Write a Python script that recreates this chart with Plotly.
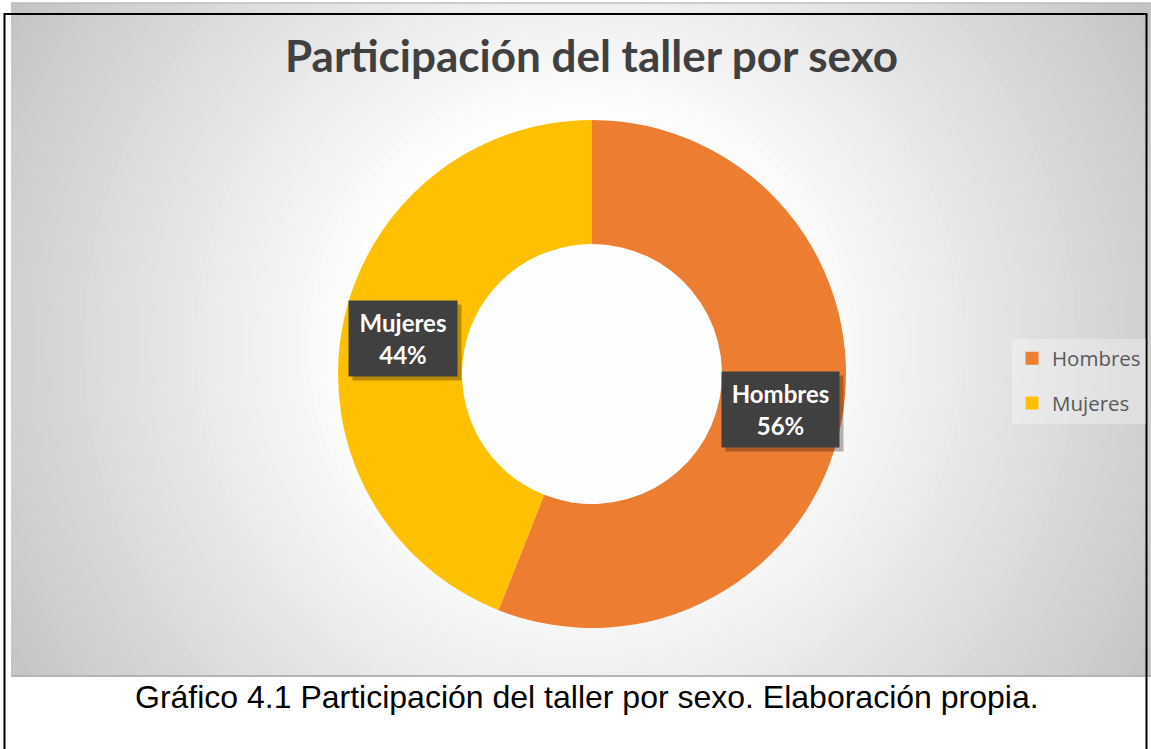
import math
import plotly.graph_objects as go

# ---- data ----
categories = ["Hombres", "Mujeres"]
values = [56, 44]
colors = ["#ED7D31", "#FFC000"]
label_box_widths = [103, 94]
title_text = "Participación del taller por sexo"
caption_text = "Gráfico 4.1 Participación del taller por sexo. Elaboración propia."

W, H = 1151, 749
CX, CY = 592, 374          # donut centre (px)
R_OUT, R_IN = 254, 130     # radii (px)

fig = go.Figure()

# hidden cartesian axes used for the radial-gradient background (1 unit = 1 px)
GX0, GX1, GY0, GY1 = 11, 1151, 3, 676
fig.update_layout(
    xaxis=dict(domain=[GX0 / W, GX1 / W], range=[GX0, GX1], visible=False, fixedrange=True),
    yaxis=dict(domain=[1 - GY1 / H, 1 - GY0 / H], range=[GY1, GY0], visible=False, fixedrange=True),
)

shapes = []
gcx, gcy = 580, 345
r = 760
while r >= 230:
    v = 285 - 0.134 * r
    v = max(185, min(255, v))
    c = int(round(v))
    shapes.append(dict(type="circle", xref="x", yref="y", layer="below",
                       x0=gcx - r, x1=gcx + r, y0=gcy - r, y1=gcy + r,
                       fillcolor=f"rgb({c},{c},{c})", line=dict(width=0)))
    r -= 8
# edges of the chart area
shapes.append(dict(type="line", xref="paper", yref="paper",
                   x0=GX0 / W, x1=GX1 / W, y0=1 - GY1 / H, y1=1 - GY1 / H,
                   line=dict(color="#b4b4b4", width=2)))
shapes.append(dict(type="line", xref="paper", yref="paper",
                   x0=GX0 / W, x1=GX1 / W, y0=1 - GY0 / H, y1=1 - GY0 / H,
                   line=dict(color="#bdbdbd", width=1.5)))
# black frame
shapes.append(dict(type="rect", xref="paper", yref="paper",
                   x0=4.5 / W, x1=1146.5 / W, y0=-0.05, y1=1 - 14 / H,
                   line=dict(color="black", width=2), fillcolor="rgba(0,0,0,0)"))

fig.add_trace(go.Pie(
    labels=categories, values=values, hole=R_IN / R_OUT,
    sort=False, direction="clockwise", rotation=0,
    marker=dict(colors=colors, line=dict(width=0)),
    textinfo="none", hoverinfo="label+percent", showlegend=False,
    domain=dict(x=[(CX - R_OUT) / W, (CX + R_OUT) / W],
                y=[1 - (CY + R_OUT) / H, 1 - (CY - R_OUT) / H]),
))

# legend entries
for cat, col in zip(categories, colors):
    fig.add_trace(go.Scatter(x=[None], y=[None], mode="markers", name=cat,
                             legendgroup=cat, hoverinfo="skip",
                             marker=dict(symbol="square", size=13, color=col)))

# data labels at slice centres
annotations = []
total = sum(values)
cum = 0
r_mid = (R_OUT + R_IN) / 2
for cat, v, bw in zip(categories, values, label_box_widths):
    th = math.radians((cum + v / 2) / total * 360)
    cum += v
    px = CX + r_mid * math.sin(th)
    py = CY - r_mid * math.cos(th)
    txt = f"<b>{cat}<br>{round(v / total * 100)}%</b>"
    common = dict(x=px / W, y=1 - py / H, xref="paper", yref="paper",
                  showarrow=False, borderpad=7, width=bw, height=61,
                  xanchor="center", yanchor="middle")
    # drop shadow
    annotations.append(dict(common, text=" ", xshift=4, yshift=-4,
                            bgcolor="rgba(0,0,0,0.28)",
                            font=dict(family="Lato", size=24, color="rgba(0,0,0,0)")))
    annotations.append(dict(common, text=txt, bgcolor="#404040",
                            font=dict(family="Lato", size=24, color="white")))

annotations.append(dict(text=f"<b>{title_text}</b>", x=591 / W, y=1 - 55 / H,
                        xref="paper", yref="paper", showarrow=False,
                        xanchor="center", yanchor="middle",
                        font=dict(family="Lato", size=44, color="#404040")))
annotations.append(dict(text=caption_text, x=587 / W, y=1 - 697 / H,
                        xref="paper", yref="paper", showarrow=False,
                        xanchor="center", yanchor="middle",
                        font=dict(family="Liberation Sans", size=32, color="black")))

fig.update_layout(
    width=W, height=H,
    margin=dict(l=0, r=0, t=0, b=0),
    paper_bgcolor="white", plot_bgcolor="rgba(0,0,0,0)",
    shapes=shapes, annotations=annotations,
    showlegend=True,
    legend=dict(x=1012 / W, y=1 - 381 / H, xanchor="left", yanchor="middle",
                bgcolor="rgba(255,255,255,0.3)", tracegroupgap=15,
                traceorder="grouped",
                font=dict(family="Open Sans", size=20.5, color="#595959"),
                itemwidth=30),
)

fig.write_html("out.html",
               config={"displayModeBar": False},
               post_script="document.body.style.margin='0';"
                           "document.body.style.overflow='hidden';")
